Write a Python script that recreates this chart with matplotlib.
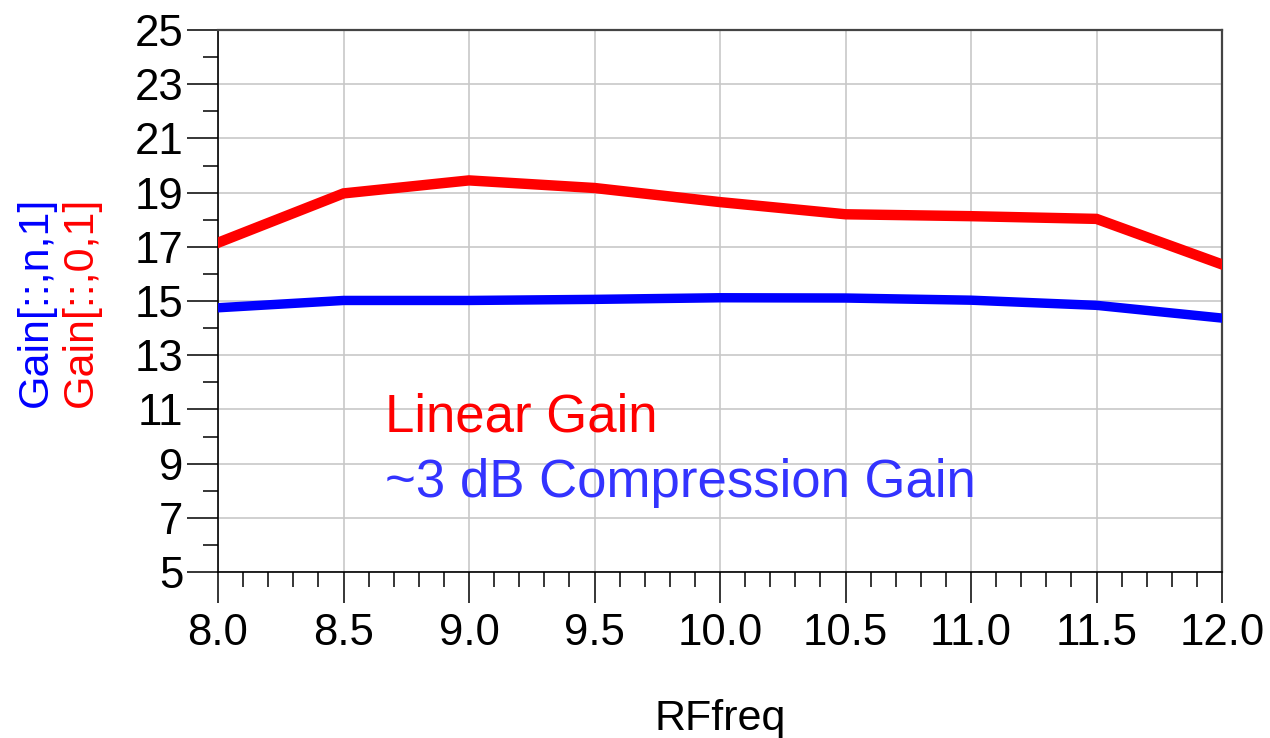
import matplotlib
matplotlib.use("Agg")
import matplotlib.pyplot as plt
from matplotlib.ticker import MultipleLocator

# RF sweep and gain data (dB)
rf_freq = [8.0, 8.5, 9.0, 9.5, 10.0, 10.5, 11.0, 11.5, 12.0]
gain_linear = [17.15, 18.97, 19.45, 19.17, 18.65, 18.20, 18.13, 18.03, 16.35]
gain_compressed = [14.75, 15.02, 15.02, 15.06, 15.12, 15.11, 15.03, 14.84, 14.37]

x_ticks = [8.0, 8.5, 9.0, 9.5, 10.0, 10.5, 11.0, 11.5, 12.0]
x_tick_labels = ["8.0", "8.5", "9.0", "9.5", "10.0", "10.5", "11.0", "11.5", "12.0"]
y_ticks = [5, 7, 9, 11, 13, 15, 17, 19, 21, 23, 25]

plt.rcParams["font.family"] = ["Liberation Sans", "DejaVu Sans"]

W, H = 1270, 738
fig = plt.figure(figsize=(W / 100, H / 100), dpi=100)
ax = fig.add_axes([218 / W, 1 - 572 / H, (1222 - 218) / W, (572 - 30) / H])

ax.plot(rf_freq, gain_linear, color="#ff0000", lw=7.5, solid_joinstyle="miter", zorder=3)
ax.plot(rf_freq, gain_compressed, color="#0000ff", lw=6.8, solid_joinstyle="miter", zorder=3)

ax.set_xlim(8.0, 12.0)
ax.set_ylim(5, 25)
ax.set_xticks(x_ticks)
ax.set_xticklabels(x_tick_labels)
ax.set_yticks(y_ticks)
ax.xaxis.set_minor_locator(MultipleLocator(0.1))
ax.yaxis.set_minor_locator(MultipleLocator(1))

ax.grid(True, which="major", color="#c8c8c8", lw=1.2)
ax.set_axisbelow(True)

ax.tick_params(axis="both", which="major", direction="out", length=22, width=1.1,
               color="black", labelsize=31.5)
ax.tick_params(axis="both", which="minor", direction="out", length=11, width=1.1,
               color="black")
ax.tick_params(axis="x", which="major", pad=7.5)
ax.tick_params(axis="y", which="major", pad=3)

for side in ("left", "bottom"):
    ax.spines[side].set_color("black")
    ax.spines[side].set_linewidth(1.2)
for side in ("top", "right"):
    ax.spines[side].set_color("#444444")
    ax.spines[side].set_linewidth(1.6)

fig.text(720 / W, 1 - 730 / H, "RFfreq", ha="center", va="baseline", fontsize=31)

# stacked y-axis labels, one per trace colour
fig.text(36 / W, 1 - 302 / H, "Gain[::,n,1]", rotation=90, ha="center", va="center",
         fontsize=31, color="#0000ff")
fig.text(81 / W, 1 - 302 / H, "Gain[::,0,1]", rotation=90, ha="center", va="center",
         fontsize=31, color="#ff0000")

fig.text(385 / W, 1 - 432 / H, "Linear Gain", ha="left", va="baseline",
         fontsize=38, color="#ff0000")
fig.text(385 / W, 1 - 497 / H, "~3 dB Compression Gain", ha="left", va="baseline",
         fontsize=38, color="#3333ff")

fig.savefig("out.png", dpi=100, facecolor="white")
